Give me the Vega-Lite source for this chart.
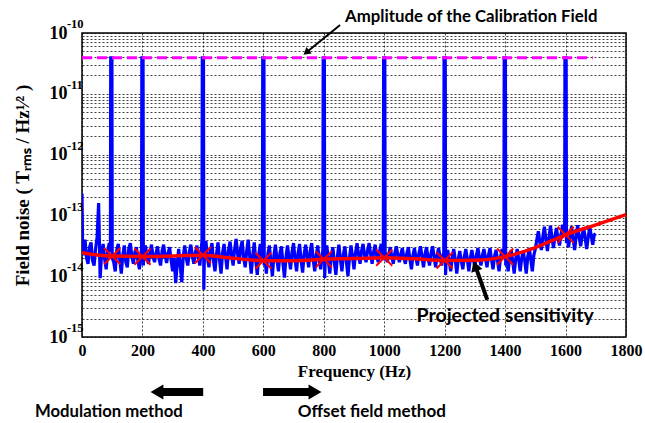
{
  "$schema": "https://vega.github.io/schema/vega-lite/v6.json",
  "autosize": "none",
  "width": 544,
  "height": 304,
  "padding": {"left": 82, "top": 33, "right": 19, "bottom": 86},
  "background": "white",
  "config": {
    "view": {"stroke": "black", "strokeWidth": 1.5},
    "axis": {"domain": false, "ticks": false, "gridColor": "#000000", "gridDash": [2, 2], "gridWidth": 1, "gridOpacity": 0.75, "labelColor": "black", "titleColor": "black"}
  },
  "datasets": {
    "noise": [
      {"f":0,"v":2.3e-13},{"f":2,"v":3.0e-14},{"f":5,"v":2.2e-14},{"f":10,"v":4.0e-14},{"f":15,"v":2.0e-14},{"f":20,"v":1.6e-14},{"f":25,"v":3.0e-14},{"f":30,"v":3.6e-14},{"f":35,"v":1.8e-14},{"f":40,"v":1.5e-14},{"f":45,"v":2.8e-14},{"f":50,"v":4.4e-14},{"f":55,"v":1.6e-13},{"f":60,"v":9.3e-15},{"f":65,"v":2.4e-14},{"f":70,"v":3.4e-14},{"f":75,"v":1.9e-14},{"f":80,"v":1.3e-14},{"f":85,"v":2.6e-14},{"f":90,"v":3.5e-14},
      {"f":94,"v":2.5e-14},{"f":95,"v":3.9e-11},{"f":99,"v":3.9e-11},{"f":100,"v":2.0e-14},
      {"f":105,"v":1.7e-14},{"f":110,"v":1.2e-14},{"f":115,"v":2.7e-14},{"f":120,"v":3.4e-14},{"f":125,"v":1.9e-14},{"f":130,"v":1.1e-14},{"f":135,"v":2.2e-14},{"f":140,"v":3.2e-14},{"f":145,"v":1.7e-14},{"f":150,"v":1.4e-14},{"f":155,"v":2.9e-14},{"f":160,"v":3.5e-14},{"f":165,"v":2.1e-14},{"f":170,"v":1.6e-14},{"f":175,"v":2.5e-14},{"f":180,"v":3.0e-14},{"f":185,"v":1.8e-14},{"f":190,"v":1.3e-14},{"f":195,"v":2.3e-14},
      {"f":197,"v":2.2e-14},{"f":198,"v":3.9e-11},{"f":202,"v":3.9e-11},{"f":203,"v":1.5e-14},
      {"f":205,"v":2.6e-14},{"f":210,"v":3.2e-14},{"f":215,"v":2.0e-14},{"f":220,"v":1.6e-14},{"f":225,"v":2.5e-14},{"f":230,"v":3.3e-14},{"f":235,"v":2.1e-14},{"f":240,"v":1.7e-14},{"f":245,"v":2.4e-14},{"f":250,"v":3.1e-14},{"f":255,"v":1.9e-14},{"f":260,"v":1.5e-14},{"f":265,"v":2.6e-14},{"f":270,"v":3.3e-14},{"f":275,"v":2.2e-14},{"f":280,"v":1.65e-14},{"f":285,"v":2.4e-14},{"f":290,"v":3.0e-14},{"f":295,"v":1.8e-14},{"f":300,"v":1.2e-14},{"f":305,"v":2.0e-14},{"f":310,"v":7.7e-15},{"f":315,"v":1.6e-14},{"f":320,"v":2.8e-14},{"f":325,"v":1.5e-14},{"f":330,"v":8.0e-15},{"f":335,"v":2.1e-14},{"f":340,"v":3.2e-14},{"f":345,"v":2.0e-14},{"f":350,"v":1.5e-14},{"f":355,"v":2.5e-14},{"f":360,"v":3.3e-14},{"f":365,"v":2.2e-14},{"f":370,"v":1.6e-14},{"f":375,"v":2.4e-14},{"f":380,"v":3.2e-14},{"f":385,"v":2.0e-14},{"f":390,"v":1.5e-14},{"f":395,"v":3.0e-14},
      {"f":397,"v":3.8e-14},{"f":398,"v":3.9e-11},{"f":402,"v":3.9e-11},{"f":403,"v":6.0e-15},
      {"f":405,"v":2.2e-14},{"f":410,"v":3.8e-14},{"f":415,"v":2.0e-14},{"f":420,"v":1.4e-14},{"f":425,"v":2.6e-14},{"f":430,"v":3.5e-14},{"f":435,"v":1.8e-14},{"f":440,"v":1.2e-14},{"f":445,"v":2.3e-14},{"f":450,"v":3.6e-14},{"f":455,"v":1.9e-14},{"f":460,"v":1.1e-14},{"f":465,"v":2.4e-14},{"f":470,"v":3.4e-14},{"f":475,"v":2.1e-14},{"f":480,"v":1.3e-14},{"f":485,"v":2.7e-14},{"f":490,"v":3.7e-14},{"f":495,"v":2.2e-14},{"f":500,"v":1.5e-14},{"f":505,"v":2.8e-14},{"f":510,"v":4.1e-14},{"f":515,"v":2.3e-14},{"f":520,"v":1.6e-14},{"f":525,"v":2.9e-14},{"f":530,"v":3.8e-14},{"f":535,"v":2.0e-14},{"f":540,"v":1.4e-14},{"f":545,"v":2.6e-14},{"f":550,"v":4.0e-14},{"f":555,"v":2.1e-14},{"f":560,"v":1.1e-14},{"f":565,"v":2.2e-14},{"f":570,"v":3.6e-14},{"f":575,"v":1.8e-14},{"f":580,"v":1.05e-14},{"f":585,"v":2.3e-14},{"f":590,"v":3.4e-14},{"f":595,"v":2.0e-14},
      {"f":597,"v":2.4e-14},{"f":598,"v":3.9e-11},{"f":602,"v":3.9e-11},{"f":603,"v":1.5e-14},
      {"f":605,"v":2.1e-14},{"f":610,"v":1.1e-14},{"f":615,"v":2.3e-14},{"f":620,"v":3.2e-14},{"f":625,"v":1.7e-14},{"f":630,"v":1.0e-14},{"f":635,"v":2.2e-14},{"f":640,"v":3.3e-14},{"f":645,"v":1.9e-14},{"f":650,"v":1.2e-14},{"f":655,"v":2.4e-14},{"f":660,"v":3.1e-14},{"f":665,"v":1.6e-14},{"f":670,"v":9.5e-15},{"f":675,"v":2.1e-14},{"f":680,"v":3.2e-14},{"f":685,"v":2.0e-14},{"f":690,"v":1.3e-14},{"f":695,"v":2.5e-14},{"f":700,"v":3.5e-14},{"f":705,"v":1.9e-14},{"f":710,"v":1.2e-14},{"f":715,"v":2.4e-14},{"f":720,"v":3.4e-14},{"f":725,"v":1.8e-14},{"f":730,"v":1.15e-14},{"f":735,"v":2.3e-14},{"f":740,"v":3.3e-14},{"f":745,"v":2.1e-14},{"f":750,"v":1.4e-14},{"f":755,"v":2.6e-14},{"f":760,"v":3.5e-14},{"f":765,"v":1.9e-14},{"f":770,"v":1.2e-14},{"f":775,"v":2.2e-14},{"f":780,"v":3.2e-14},{"f":785,"v":1.8e-14},{"f":790,"v":1.3e-14},{"f":795,"v":2.4e-14},
      {"f":797,"v":2.6e-14},{"f":798,"v":3.9e-11},{"f":802,"v":3.9e-11},{"f":803,"v":9.3e-15},
      {"f":805,"v":2.0e-14},{"f":810,"v":3.2e-14},{"f":815,"v":1.8e-14},{"f":820,"v":1.1e-14},{"f":825,"v":2.2e-14},{"f":830,"v":3.0e-14},{"f":835,"v":1.7e-14},{"f":840,"v":1.05e-14},{"f":845,"v":2.1e-14},{"f":850,"v":3.3e-14},{"f":855,"v":1.9e-14},{"f":860,"v":1.2e-14},{"f":865,"v":2.3e-14},{"f":870,"v":3.1e-14},{"f":875,"v":1.7e-14},{"f":880,"v":1.0e-14},{"f":885,"v":2.0e-14},{"f":890,"v":3.2e-14},{"f":895,"v":2.1e-14},{"f":900,"v":1.3e-14},{"f":905,"v":2.4e-14},{"f":910,"v":3.5e-14},{"f":915,"v":2.3e-14},{"f":920,"v":1.6e-14},{"f":925,"v":2.6e-14},{"f":930,"v":3.4e-14},{"f":935,"v":2.2e-14},{"f":940,"v":1.7e-14},{"f":945,"v":2.7e-14},{"f":950,"v":3.5e-14},{"f":955,"v":2.3e-14},{"f":960,"v":1.6e-14},{"f":965,"v":2.5e-14},{"f":970,"v":3.3e-14},{"f":975,"v":2.2e-14},{"f":980,"v":1.7e-14},{"f":985,"v":2.6e-14},{"f":990,"v":3.4e-14},{"f":995,"v":2.2e-14},
      {"f":997,"v":2.5e-14},{"f":998,"v":3.9e-11},{"f":1002,"v":3.9e-11},{"f":1003,"v":1.8e-14},
      {"f":1005,"v":2.4e-14},{"f":1010,"v":1.7e-14},{"f":1015,"v":2.3e-14},{"f":1020,"v":3.0e-14},{"f":1025,"v":2.1e-14},{"f":1030,"v":1.6e-14},{"f":1035,"v":2.4e-14},{"f":1040,"v":3.1e-14},{"f":1045,"v":2.2e-14},{"f":1050,"v":1.7e-14},{"f":1055,"v":2.3e-14},{"f":1060,"v":2.9e-14},{"f":1065,"v":2.0e-14},{"f":1070,"v":1.6e-14},{"f":1075,"v":2.4e-14},{"f":1080,"v":3.0e-14},{"f":1085,"v":1.9e-14},{"f":1090,"v":1.3e-14},{"f":1095,"v":2.2e-14},{"f":1100,"v":2.9e-14},{"f":1105,"v":2.0e-14},{"f":1110,"v":1.5e-14},{"f":1115,"v":2.4e-14},{"f":1120,"v":3.1e-14},{"f":1125,"v":2.1e-14},{"f":1130,"v":1.4e-14},{"f":1135,"v":2.3e-14},{"f":1140,"v":3.0e-14},{"f":1145,"v":2.0e-14},{"f":1150,"v":1.5e-14},{"f":1155,"v":2.4e-14},{"f":1160,"v":3.1e-14},{"f":1165,"v":2.1e-14},{"f":1170,"v":1.4e-14},{"f":1175,"v":2.2e-14},{"f":1180,"v":2.9e-14},{"f":1185,"v":2.0e-14},{"f":1190,"v":1.5e-14},{"f":1195,"v":2.3e-14},
      {"f":1197,"v":2.4e-14},{"f":1198,"v":3.9e-11},{"f":1202,"v":3.9e-11},{"f":1203,"v":1.05e-14},
      {"f":1205,"v":1.9e-14},{"f":1210,"v":2.7e-14},{"f":1215,"v":1.8e-14},{"f":1220,"v":1.2e-14},{"f":1225,"v":2.0e-14},{"f":1230,"v":2.8e-14},{"f":1235,"v":1.9e-14},{"f":1240,"v":1.1e-14},{"f":1245,"v":1.9e-14},{"f":1250,"v":2.6e-14},{"f":1255,"v":1.8e-14},{"f":1260,"v":1.3e-14},{"f":1265,"v":2.1e-14},{"f":1270,"v":2.8e-14},{"f":1275,"v":1.9e-14},{"f":1280,"v":1.2e-14},{"f":1285,"v":2.0e-14},{"f":1290,"v":2.7e-14},{"f":1295,"v":1.9e-14},{"f":1300,"v":1.4e-14},{"f":1305,"v":2.2e-14},{"f":1310,"v":2.9e-14},{"f":1315,"v":2.0e-14},{"f":1320,"v":1.5e-14},{"f":1325,"v":2.2e-14},{"f":1330,"v":2.8e-14},{"f":1335,"v":2.0e-14},{"f":1340,"v":1.4e-14},{"f":1345,"v":2.2e-14},{"f":1350,"v":2.9e-14},{"f":1355,"v":1.9e-14},{"f":1360,"v":1.3e-14},{"f":1365,"v":2.1e-14},{"f":1370,"v":2.7e-14},{"f":1375,"v":1.8e-14},{"f":1380,"v":1.2e-14},{"f":1385,"v":2.1e-14},{"f":1390,"v":2.8e-14},{"f":1395,"v":2.0e-14},
      {"f":1396,"v":2.2e-14},{"f":1397,"v":3.9e-11},{"f":1401,"v":3.9e-11},{"f":1402,"v":1.5e-14},
      {"f":1405,"v":2.0e-14},{"f":1410,"v":1.2e-14},{"f":1415,"v":2.0e-14},{"f":1420,"v":2.7e-14},{"f":1425,"v":1.8e-14},{"f":1430,"v":1.1e-14},{"f":1435,"v":1.9e-14},{"f":1440,"v":2.8e-14},{"f":1445,"v":1.9e-14},{"f":1450,"v":1.2e-14},{"f":1455,"v":2.0e-14},{"f":1460,"v":2.6e-14},{"f":1465,"v":1.8e-14},{"f":1470,"v":1.1e-14},{"f":1475,"v":2.1e-14},{"f":1480,"v":2.9e-14},{"f":1485,"v":1.9e-14},{"f":1490,"v":1.2e-14},{"f":1495,"v":2.2e-14},{"f":1500,"v":2.8e-14},{"f":1505,"v":4.0e-14},{"f":1510,"v":5.5e-14},{"f":1515,"v":3.6e-14},{"f":1520,"v":2.7e-14},{"f":1525,"v":4.5e-14},{"f":1530,"v":6.5e-14},{"f":1535,"v":4.0e-14},{"f":1540,"v":2.6e-14},{"f":1545,"v":4.2e-14},{"f":1550,"v":6.8e-14},{"f":1555,"v":4.3e-14},{"f":1560,"v":2.9e-14},{"f":1565,"v":4.6e-14},{"f":1570,"v":6.2e-14},{"f":1575,"v":4.1e-14},{"f":1580,"v":3.2e-14},{"f":1585,"v":4.8e-14},{"f":1590,"v":7.0e-14},{"f":1595,"v":4.5e-14},
      {"f":1597,"v":4.8e-14},{"f":1598,"v":3.9e-11},{"f":1602,"v":3.9e-11},{"f":1603,"v":3.5e-14},
      {"f":1605,"v":4.4e-14},{"f":1610,"v":3.0e-14},{"f":1615,"v":4.6e-14},{"f":1620,"v":6.6e-14},{"f":1625,"v":4.2e-14},{"f":1630,"v":2.7e-14},{"f":1635,"v":4.5e-14},{"f":1640,"v":6.9e-14},{"f":1645,"v":4.4e-14},{"f":1650,"v":3.1e-14},{"f":1655,"v":4.7e-14},{"f":1660,"v":6.3e-14},{"f":1665,"v":4.2e-14},{"f":1670,"v":2.8e-14},{"f":1675,"v":4.4e-14},{"f":1680,"v":6.5e-14},{"f":1685,"v":4.6e-14},{"f":1690,"v":3.3e-14},{"f":1695,"v":4.8e-14},{"f":1700,"v":5.0e-14}
    ],
    "fit": [
      {"f":0,"v":2.44e-14},{"f":100,"v":2.14e-14},{"f":200,"v":2.1e-14},{"f":300,"v":2.15e-14},{"f":400,"v":2.22e-14},{"f":500,"v":1.97e-14},{"f":600,"v":1.8e-14},{"f":700,"v":1.8e-14},{"f":800,"v":1.9e-14},{"f":900,"v":1.95e-14},{"f":1000,"v":2.02e-14},{"f":1100,"v":1.93e-14},{"f":1200,"v":1.82e-14},{"f":1300,"v":1.83e-14},{"f":1400,"v":2.1e-14},{"f":1500,"v":2.95e-14},{"f":1600,"v":4.8e-14},{"f":1700,"v":7.0e-14},{"f":1800,"v":1.03e-13}
    ],
    "markers": [
      {"f":100,"v":2.14e-14},{"f":200,"v":2.1e-14},{"f":400,"v":2.22e-14},{"f":600,"v":1.8e-14},{"f":800,"v":1.9e-14},{"f":1000,"v":2.02e-14},{"f":1200,"v":1.82e-14},{"f":1400,"v":2.1e-14},{"f":1600,"v":4.8e-14}
    ]
  },
  "layer": [
    {
      "data": {"name": "noise"},
      "mark": {"type": "line", "color": "#0000ff", "strokeWidth": 3.2, "clip": true},
      "encoding": {
        "x": {"field": "f", "type": "quantitative", "scale": {"domain": [0, 1800], "nice": false, "zero": false},
          "axis": {"values": [0,200,400,600,800,1000,1200,1400,1600,1800], "format": "d", "grid": true, "title": "Frequency (Hz)", "labelFont": "Liberation Serif", "labelFontWeight": "bold", "labelFontSize": 16, "labelPadding": 5, "labelFlush": false, "titleFont": "Liberation Serif", "titleFontWeight": "bold", "titleFontSize": 17, "titlePadding": 5}},
        "y": {"field": "v", "type": "quantitative", "scale": {"type": "log", "domain": [1e-15, 1e-10], "nice": false},
          "axis": {"values": [1e-15,2e-15,3e-15,4e-15,5e-15,6e-15,7e-15,8e-15,9e-15,1e-14,2e-14,3e-14,4e-14,5e-14,6e-14,7e-14,8e-14,9e-14,1e-13,2e-13,3e-13,4e-13,5e-13,6e-13,7e-13,8e-13,9e-13,1e-12,2e-12,3e-12,4e-12,5e-12,6e-12,7e-12,8e-12,9e-12,1e-11,2e-11,3e-11,4e-11,5e-11,6e-11,7e-11,8e-11,9e-11,1e-10],
            "grid": true,
            "labelExpr": "(datum.value == 1e-10 || datum.value == 1e-11 || datum.value == 1e-12 || datum.value == 1e-13 || datum.value == 1e-14 || datum.value == 1e-15) ? '10' : ''",
            "labelFont": "Liberation Serif", "labelFontWeight": "bold", "labelFontSize": 18, "labelPadding": 15, "labelFlush": false,
            "title": "Field noise ( Tᵣₘₛ / Hz¹⁄² )", "titleFont": "Liberation Serif", "titleFontWeight": "bold", "titleFontSize": 19, "titlePadding": 17}}
      }
    },
    {
      "data": {"values": [{"f": 0, "f2": 1690, "v": 3.9e-11}]},
      "mark": {"type": "rule", "color": "#ff00ff", "strokeWidth": 3, "strokeDash": [10, 5]},
      "encoding": {
        "x": {"field": "f", "type": "quantitative"},
        "x2": {"field": "f2"},
        "y": {"field": "v", "type": "quantitative"}
      }
    },
    {
      "data": {"name": "fit"},
      "mark": {"type": "line", "color": "#ff0000", "strokeWidth": 3.5, "interpolate": "monotone"},
      "encoding": {
        "x": {"field": "f", "type": "quantitative"},
        "y": {"field": "v", "type": "quantitative"}
      }
    },
    {
      "data": {"name": "markers"},
      "mark": {"type": "point", "shape": "M-1,-1L1,1M1,-1L-1,1", "filled": false, "color": "#ff0000", "strokeWidth": 2, "size": 260, "opacity": 1},
      "encoding": {
        "x": {"field": "f", "type": "quantitative"},
        "y": {"field": "v", "type": "quantitative"}
      }
    },
    {
      "data": {"values": [
        {"f": 854, "v": 1.35e-10, "f2": 742, "v2": 4.78e-11, "w": 2},
        {"f": 1341, "v": 4.07e-15, "f2": 1300, "v2": 1.55e-14, "w": 4},
        {"f": 401, "v": 1.245e-16, "f2": 252, "v2": 1.245e-16, "w": 8},
        {"f": 599, "v": 1.245e-16, "f2": 768, "v2": 1.245e-16, "w": 8}
      ]},
      "mark": {"type": "rule", "color": "black"},
      "encoding": {
        "x": {"field": "f", "type": "quantitative"},
        "y": {"field": "v", "type": "quantitative"},
        "x2": {"field": "f2"},
        "y2": {"field": "v2"},
        "strokeWidth": {"field": "w", "type": "quantitative", "scale": null}
      }
    },
    {
      "data": {"values": [
        {"f": 742, "v": 4.78e-11, "a": 231, "s": 70},
        {"f": 1301, "v": 1.47e-14, "a": 341, "s": 140},
        {"f": 248, "v": 1.245e-16, "a": 270, "s": 220},
        {"f": 771, "v": 1.245e-16, "a": 90, "s": 220}
      ]},
      "mark": {"type": "point", "shape": "triangle-up", "filled": true, "color": "black", "opacity": 1},
      "encoding": {
        "x": {"field": "f", "type": "quantitative"},
        "y": {"field": "v", "type": "quantitative"},
        "angle": {"field": "a", "type": "quantitative", "scale": null},
        "size": {"field": "s", "type": "quantitative", "scale": null}
      }
    },
    {
      "data": {"values": [
        {"f": -50, "v": 1.4e-10, "t": "-10"},
        {"f": -50, "v": 1.4e-11, "t": "-11"},
        {"f": -50, "v": 1.4e-12, "t": "-12"},
        {"f": -50, "v": 1.4e-13, "t": "-13"},
        {"f": -50, "v": 1.4e-14, "t": "-14"},
        {"f": -50, "v": 1.4e-15, "t": "-15"}
      ]},
      "mark": {"type": "text", "font": "Liberation Serif", "fontWeight": "bold", "fontSize": 12.5, "color": "black", "align": "left", "baseline": "middle"},
      "encoding": {
        "x": {"field": "f", "type": "quantitative"},
        "y": {"field": "v", "type": "quantitative"},
        "text": {"field": "t"}
      }
    },
    {
      "data": {"values": [
        {"f": 1288, "v": 1.83e-10, "t": "Amplitude of the Calibration Field", "fs": 16.8},
        {"f": 1400, "v": 2.21e-15, "t": "Projected sensitivity", "fs": 19.5},
        {"f": 89, "v": 5.83e-17, "t": "Modulation method", "fs": 16.7},
        {"f": 959, "v": 5.83e-17, "t": "Offset field method", "fs": 17}
      ]},
      "mark": {"type": "text", "font": "Lato", "fontWeight": "bold", "color": "black", "align": "center", "baseline": "middle"},
      "encoding": {
        "x": {"field": "f", "type": "quantitative"},
        "y": {"field": "v", "type": "quantitative"},
        "text": {"field": "t"},
        "size": {"field": "fs", "type": "quantitative", "scale": null}
      }
    }
  ]
}
